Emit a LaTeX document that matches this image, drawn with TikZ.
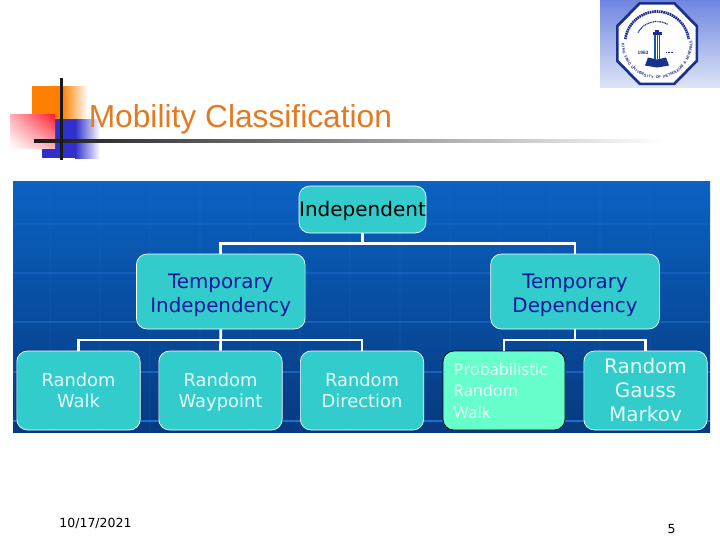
\documentclass[tikz,border=0pt]{standalone}
\usepackage{fontspec}
\setmainfont{DejaVu Sans}
\newfontfamily\arialf{Liberation Sans}
\newfontfamily\probf{Noto Sans}
\usetikzlibrary{calc,shadings}
\definecolor{boxteal}{HTML}{33CCCC}
\definecolor{probteal}{HTML}{66FFCC}
\definecolor{navytext}{HTML}{10189A}
\definecolor{boxwhite}{HTML}{E6FBFB}
\definecolor{titleor}{HTML}{E27A22}
\definecolor{logoblue}{HTML}{1B2F8C}
\definecolor{logotop}{HTML}{6F86E0}
\definecolor{logobot}{HTML}{DDE4F7}
\definecolor{paneltop}{HTML}{0A62C2}
\definecolor{panelbot}{HTML}{063A80}
\definecolor{gridblue}{HTML}{2A80E8}
\definecolor{ordeco}{HTML}{FF7F00}
\definecolor{bludeco}{HTML}{3030CC}
\definecolor{reddeco}{HTML}{FF1A2A}
\definecolor{pinkdeco}{HTML}{FFB0B8}
\tikzset{
  boxbase/.style={rounded corners=8pt,fill=boxteal,draw=white,line width=.5pt,inner sep=0pt,align=center},
  rootbox/.style={boxbase,minimum width=95.25pt,minimum height=35.25pt,text=black,font=\fontsize{15}{18}\selectfont},
  midbox/.style={boxbase,minimum width=126.5pt,minimum height=56.25pt,text=navytext,font=\fontsize{14.9}{18}\selectfont},
  leafbox/.style={boxbase,minimum width=92.5pt,minimum height=59.25pt,text=boxwhite,font=\fontsize{13.4}{15.75}\selectfont},
  bigleaf/.style={leafbox,font=\fontsize{15}{18}\selectfont},
  probbox/.style={boxbase,draw=black,line width=.6pt,fill=probteal,text=boxwhite,minimum height=59.25pt,
     inner xsep=8pt,text width=75.5pt,align=left,font=\probf\fontsize{12.2}{16.2}\selectfont},
  conn/.style={draw=white,line width=2pt},
  gridln/.style={draw=gridblue,line width=.8pt,opacity=#1},
  plaintxt/.style={inner sep=0pt,text=black,font=\fontsize{9.4}{12}\selectfont},
  sealtxt/.style={inner sep=0pt,text=logoblue,font=\arialf\bfseries\fontsize{2.9}{3.2}\selectfont},
}
\begin{document}
\begin{tikzpicture}[x=.75pt,y=-.75pt]
\useasboundingbox (0,0) rectangle (720,540);
\fill[white] (0,0) rectangle (720,540);

% university logo
\shade[top color=logotop,bottom color=logobot] (600,0) rectangle (720,87);
\begin{scope}[shift={(657,43.5)},x=.75pt,y=.75pt]
  \fill[logoblue] (-41,18) -- (-41,-18) -- (-18,-41.5) -- (18,-41.5) -- (41,-18) -- (41,18) -- (18,41.5) -- (-18,41.5) -- cycle;
  \fill[white] (-38.5,16.5) -- (-38.5,-16.5) -- (-16.5,-39) -- (16.5,-39) -- (38.5,-16.5) -- (38.5,16.5) -- (16.5,39) -- (-16.5,39) -- cycle;
  \draw[logoblue,line width=2pt,dash pattern=on 1.2pt off .5pt] (172:32) arc[start angle=172,end angle=8,radius=32];
  \foreach \ch [count=\i] in {K,I,N,G,{ },F,A,H,D,{ },U,N,I,V,E,R,S,I,T,Y,{ },O,F,{ },P,E,T,R,O,L,E,U,M,{ },\&,{ },M,I,N,E,R,A,L,S}
    \node[sealtxt,rotate={178+\i*4.2+90}] (seal\i) at ({178+\i*4.2}:34) {\ch};
  \draw[logoblue,line width=.9pt,dash pattern=on .8pt off .5pt] (150:22) arc[start angle=150,end angle=60,radius=22];
  % tower
  \fill[logoblue!80!cyan] (-3,-15) -- (-3,9) -- (3,9) -- (3,-15) -- cycle;
  \fill[logoblue] (-4.5,9) rectangle (4.5,11.5);
  \fill[logoblue] (-2,11.5) rectangle (2,14);
  \draw[white,line width=.3pt] (-1,-15) -- (-1,9) (1,-15) -- (1,9);
  % book
  \fill[logoblue] (-12,-22) -- (-9,-14) -- (0,-16) -- (9,-14) -- (12,-22) -- (0,-24) -- cycle;
  \node[inner sep=0pt,text=logoblue,font=\arialf\bfseries\fontsize{3.6}{4}\selectfont] (yr) at (-14,-9) {1963};
  \draw[logoblue,line width=.6pt,dash pattern=on .8pt off .4pt] (9,-9) -- (17,-9);
\end{scope}

% corner decoration
\shade[left color=ordeco,right color=white] (62,86) rectangle (88,119);
\fill[ordeco] (32,86) rectangle (62,119);
\shade[left color=bludeco,right color=white] (75,119) rectangle (100,158);
\fill[bludeco] (42,119) rectangle (75,158);
\shade[lower left=white,upper right=reddeco,upper left=pinkdeco,lower right=pinkdeco] (10,114) rectangle (55,148);
\shade[left color=black!90,right color=white] (34,139.7) rectangle (665,142.3);
\fill[black!90] (60,78) rectangle (63,160);

% title
\node[anchor=west,inner sep=0pt,text=titleor,font=\arialf\fontsize{23.8}{28}\selectfont] (title) at (88.5,119) {Mobility Classification};

% panel
\shade[top color=paneltop,bottom color=panelbot] (13,181) rectangle (710,432);
\foreach \yy/\oo in {224/.15,273/.3,322/.35,372/.5,421/.75} \draw[gridln=\oo] (13,\yy) -- (710,\yy);
\foreach \xx in {50,100,150,200,250,300,350,400,450,500,550,600,650} \draw[gridln=.08] (\xx,181) -- (\xx,432);

% nodes
\node[rootbox] (indep) at (362.5,209.5) {\rule{0pt}{14.2pt}Independent};
\node[midbox] (tind) at (220.75,291.5) {\rule{0pt}{16.2pt}Temporary\\Independency};
\node[midbox] (tdep) at (575,291.5) {\rule{0pt}{16.2pt}Temporary\\Dependency};
\node[leafbox] (walk) at (78.5,390.5) {Random\\Walk};
\node[leafbox] (wayp) at (220.5,390.5) {Random\\\raisebox{0pt}[\height][0pt]{Waypoint}};
\node[leafbox] (dirn) at (362,390.5) {Random\\Direction};
\node[probbox] (prob) at (504,390.5) {Probabilistic\\Random\\Walk};
\node[bigleaf] (gauss) at (645.5,390.5) {Random\\Gauss\\Markov};

% connectors
\coordinate (busa) at (0,243.5);
\coordinate (busb) at (0,340);
\draw[conn] (indep.south) -- (indep.south |- busa);
\draw[conn] (tind.north) |- (busa -| indep.south) -| (tdep.north);
\draw[conn] (tind.south) -- (wayp.north);
\draw[conn] (walk.north) |- (busb -| tind.south) -| (dirn.north);
\draw[conn] (tdep.south) -- (tdep.south |- busb);
\draw[conn] (prob.north) |- (busb -| tdep.south) -| (gauss.north);

% footer
\node[plaintxt,anchor=center] (date) at (95.5,523) {10/17/2021};
\node[plaintxt,anchor=center] (page) at (671.5,529) {5};
\end{tikzpicture}
\end{document}
